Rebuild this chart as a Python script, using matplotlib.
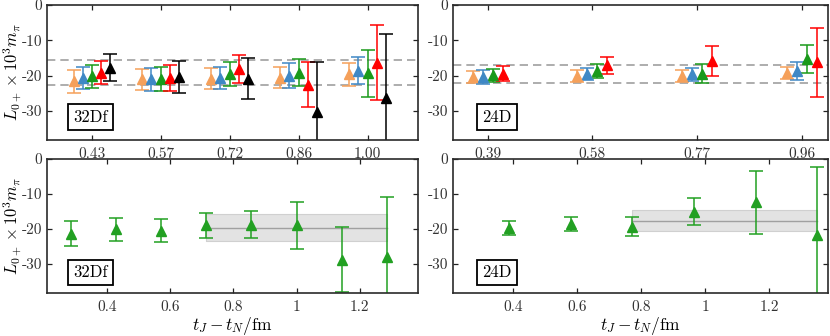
import numpy as np
import matplotlib
matplotlib.use('Agg')
import matplotlib.pyplot as plt

# fuente tipo LaTeX (cmr10 viene con matplotlib)
plt.rcParams['font.family'] = 'cmr10'
plt.rcParams['mathtext.fontset'] = 'cm'
plt.rcParams['axes.unicode_minus'] = False
plt.rcParams['font.size'] = 11

# --- datos panel superior 32Df (5 series por grupo) ---
x_top32 = [0.429, 0.571, 0.714, 0.857, 1.000]
lab_top32 = ['0.43', '0.57', '0.72', '0.86', '1.00']
orange32 = [-21.6, -21.0, -20.8, -20.6, -19.6]
orange32_err = [3.25, 3.0, 2.9, 3.0, 3.2]
blue32 = [-20.7, -21.0, -20.6, -20.0, -18.6]
blue32_err = [3.05, 3.2, 3.1, 3.5, 3.8]
green32 = [-20.2, -20.9, -19.4, -19.2, -19.3]
green32_err = [3.25, 3.4, 3.4, 3.8, 6.7]
red32 = [-19.1, -20.7, -18.1, -22.5, -16.3]
red32_err = [3.35, 3.7, 3.9, 6.5, 10.6]
black32 = [-17.7, -20.4, -20.8, -30.4, -26.3]
black32_err = [3.7, 4.5, 5.8, 14.3, 18.0]
band_top32 = [-22.7, -15.7]

# --- datos panel superior 24D (4 series por grupo) ---
x_top24 = [0.386, 0.579, 0.772, 0.965]
lab_top24 = ['0.39', '0.58', '0.77', '0.96']
orange24 = [-20.3, -20.15, -20.1, -19.25]
orange24_err = [1.75, 1.75, 1.7, 1.8]
blue24 = [-20.4, -19.55, -19.65, -18.7]
blue24_err = [1.9, 1.8, 1.85, 2.5]
green24 = [-19.9, -18.7, -19.5, -15.25]
green24_err = [1.9, 1.9, 2.7, 3.95]
red24 = [-19.4, -17.1, -15.85, -16.2]
red24_err = [2.2, 2.5, 4.25, 9.8]
band_top24 = [-22.2, -16.9]

# --- datos paneles inferiores ---
x32 = [0.286, 0.429, 0.571, 0.714, 0.857, 1.000, 1.143, 1.286]
y32 = [-21.3, -20.05, -20.5, -19.0, -18.85, -18.95, -28.75, -28.0]
e32 = [3.5, 3.25, 3.3, 3.5, 3.85, 6.65, 9.35, 17.2]
fit32 = -19.6
fit32_err = 3.9
fit32_range = [0.714, 1.286]

x24 = [0.386, 0.579, 0.772, 0.965, 1.158, 1.351]
y24 = [-19.65, -18.55, -19.3, -15.1, -12.4, -21.6]
e24 = [1.95, 1.95, 2.7, 3.85, 9.1, 19.4]
fit24 = -17.7
fit24_err = 3.0
fit24_range = [0.772, 1.351]

c_orange = '#F5A05A'
c_blue = '#3F88C5'
c_green = '#1A9A1A'
c_red = '#FF0000'
c_black = '#000000'

fig = plt.figure(figsize=(8.3, 3.36), dpi=100)
ax_tl = fig.add_axes([0.0563, 0.5833, 0.4477, 0.4018])
ax_tr = fig.add_axes([0.5454, 0.5833, 0.4526, 0.4018])
ax_bl = fig.add_axes([0.0563, 0.1289, 0.4477, 0.3979])
ax_br = fig.add_axes([0.5454, 0.1289, 0.4526, 0.3979])

def style(ax, xpad):
    ax.set_ylim(-38.2, 0)
    ax.set_yticks([0, -10, -20, -30])
    ax.set_yticklabels(['0', '-10', '-20', '-30'])
    ax.tick_params(direction='in', top=True, right=True, length=3.5,
                   width=0.9, colors='#222222', labelcolor='#333333')
    ax.tick_params(axis='y', pad=3)
    ax.tick_params(axis='x', pad=xpad)
    for s in ax.spines.values():
        s.set_linewidth(1.2)
        s.set_color('#2a2a2a')

def tag(ax, txt, y):
    ax.text(0.118, y, txt, transform=ax.transAxes, ha='center', va='center',
            fontsize=12,
            bbox=dict(boxstyle='square,pad=0.3', fc='white', ec='black', lw=1.3))

def draw(ax, x, y, e, c):
    ax.errorbar(x, y, yerr=e, fmt='^', color=c, ms=6.5, capsize=4.8,
                elinewidth=1.1, capthick=1.1)

# panel superior izquierdo
series32 = [(orange32, orange32_err, c_orange), (blue32, blue32_err, c_blue),
            (green32, green32_err, c_green), (red32, red32_err, c_red),
            (black32, black32_err, c_black)]
for yv in band_top32:
    ax_tl.axhline(yv, color='#a0a0a0', ls='--', lw=1.2, dashes=(5, 3), zorder=0)
for i, (yv, ev, c) in enumerate(series32):
    xs = np.array(x_top32) + (i - 2) * 0.019
    draw(ax_tl, xs, yv, ev, c)
ax_tl.set_xlim(0.335, 1.105)
ax_tl.set_xticks(x_top32)
ax_tl.set_xticklabels(lab_top32)
style(ax_tl, 5)
tag(ax_tl, '32Df', 0.17)

# panel superior derecho
series24 = [(orange24, orange24_err, c_orange), (blue24, blue24_err, c_blue),
            (green24, green24_err, c_green), (red24, red24_err, c_red)]
for yv in band_top24:
    ax_tr.axhline(yv, color='#a0a0a0', ls='--', lw=1.2, dashes=(5, 3), zorder=0)
for i, (yv, ev, c) in enumerate(series24):
    xs = np.array(x_top24) + (i - 1.5) * 0.0184
    draw(ax_tr, xs, yv, ev, c)
ax_tr.set_xlim(0.3215, 1.014)
ax_tr.set_xticks(x_top24)
ax_tr.set_xticklabels(lab_top24)
style(ax_tr, 5)
tag(ax_tr, '24D', 0.17)

# paneles inferiores: ajuste con banda gris
for ax, x, y, e, fit, fe, rng, name in [
        (ax_bl, x32, y32, e32, fit32, fit32_err, fit32_range, '32Df'),
        (ax_br, x24, y24, e24, fit24, fit24_err, fit24_range, '24D')]:
    ax.fill_between(rng, fit - fe, fit + fe, color='#e3e3e3',
                    edgecolor='#d0d0d0', lw=0.8, zorder=0)
    ax.plot(rng, [fit, fit], color='#a0a0a0', lw=1.0, zorder=1)
    draw(ax, x, y, e, '#22A022')
    ax.set_xlim(0.21, 1.385)
    ax.set_xticks([0.4, 0.6, 0.8, 1.0, 1.2])
    ax.set_xticklabels(['0.4', '0.6', '0.8', '1', '1.2'])
    style(ax, 5.5)
    ax.set_xlabel(r'$t_J - t_N/\mathrm{fm}$', fontsize=12.5, labelpad=0.5)
    tag(ax, name, 0.15)

for ax in [ax_tl, ax_bl]:
    ax.set_ylabel(r'$L_{0+}\times 10^3 m_\pi$', fontsize=12)
    ax.yaxis.set_label_coords(-0.062, 0.5)

plt.savefig('out.png', dpi=100)
